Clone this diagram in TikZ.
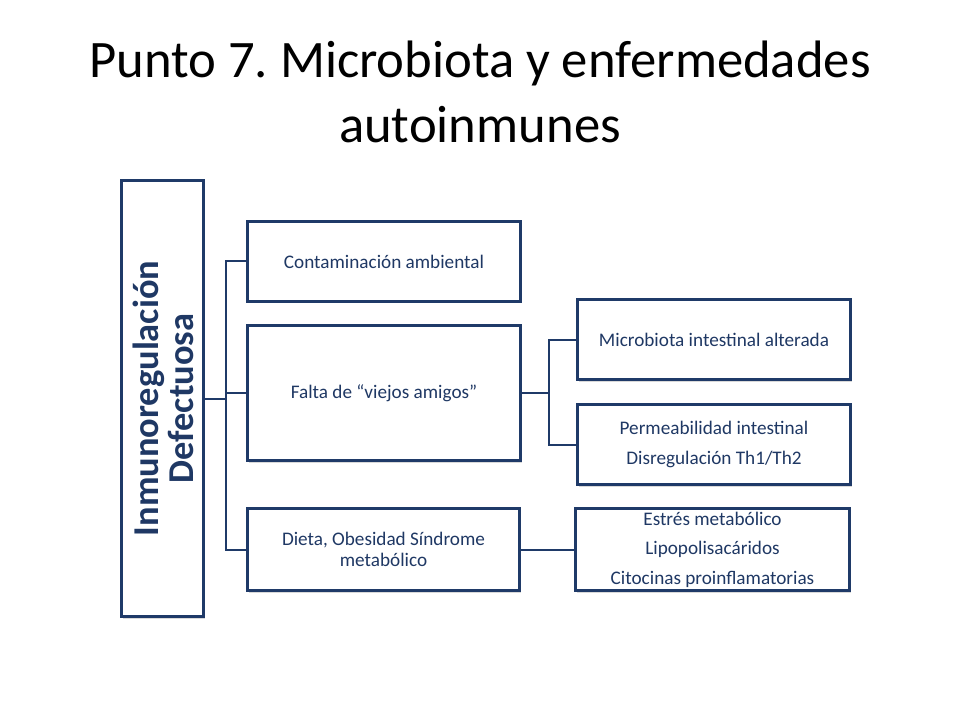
\documentclass[tikz,border=0pt]{standalone}
\usepackage{fontspec}
\setmainfont{Carlito}
\frenchspacing
\usetikzlibrary{shadows}
\definecolor{navy}{HTML}{1F3A68}
\definecolor{navytext}{HTML}{1F3864}
\tikzset{
  box/.style={draw=navy, line width=2.25pt, fill=white, rectangle, align=center,
    text=navytext, font=\fontsize{14.4}{16.2}\selectfont, inner sep=2pt,
    drop shadow={shadow xshift=1pt, shadow yshift=-1.5pt, opacity=0.25, fill=black!60}},
  link/.style={draw=navy, line width=1.5pt}
}
\begin{document}
\begin{tikzpicture}[x=0.75pt,y=-0.75pt]
\useasboundingbox (0,0) rectangle (960,720);
\node[font=\fontsize{39.5}{48.75}\selectfont, align=center, text=black] (title) at (480,92)
  {Punto 7. Microbiota y enfermedades\\autoinmunes};
\node[box, minimum width=61.5pt, minimum height=327pt, inner sep=0pt] (big) at (162.5,398.5) {};
\node[rotate=90, align=center, text=navytext, font=\fontsize{27.3}{26.25}\bfseries] (bigtxt) at (163,398.5)
  {Inmunoregulación\\Defectuosa};
\node[box, minimum width=204.75pt, minimum height=60pt] (b1) at (384,261.5) {Contaminación ambiental};
\node[box, minimum width=204.75pt, minimum height=101.25pt] (b2) at (384,393) {Falta de “viejos amigos”};
\node[box, minimum width=204pt, minimum height=61.5pt] (b3) at (383.5,549.5) {Dieta, Obesidad Síndrome\\metabólico};
\node[box, minimum width=204.75pt, minimum height=60pt] (m1) at (714,339.5) {Microbiota intestinal alterada};
\node[box, minimum width=204.75pt, minimum height=60pt] (m2) at (714,444.5) {Permeabilidad intestinal\\[6pt]Disregulación Th1/Th2};
\node[box, minimum width=205.5pt, minimum height=61.5pt] (m3) at (712.5,549.5) {Estrés metabólico\\[6pt]Lipopolisacáridos\\[6pt]Citocinas proinflamatorias};
\coordinate (j1) at (226,398.5);
\coordinate (j2) at (549,393);
\draw[link] (big.east) -- (j1);
\draw[link] (b1.west) -| (j1);
\draw[link] (b3.west) -| (j1);
\draw[link] (b2.west) -- (b2.west -| j1);
\draw[link] (b2.east) -- (j2);
\draw[link] (m1.west) -| (j2);
\draw[link] (m2.west) -| (j2);
\draw[link] (b3.east) -- (m3.west);
\end{tikzpicture}
\end{document}
